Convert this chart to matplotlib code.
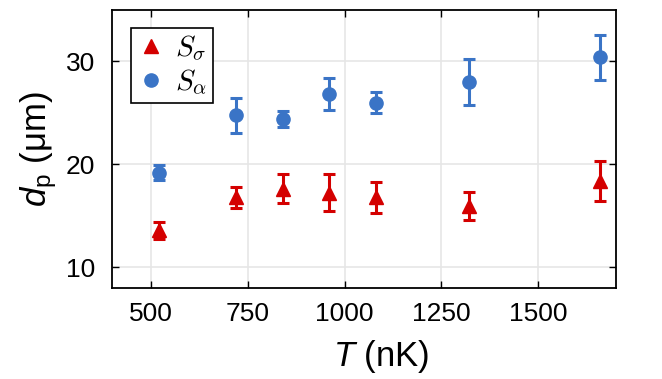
import matplotlib.pyplot as plt
from matplotlib.lines import Line2D

# temperatures (nK)
temps = [521, 720, 840, 960, 1080, 1320, 1660]

# S_sigma (red triangles)
d_sigma = [13.6, 16.8, 17.65, 17.25, 16.8, 16.0, 18.4]
err_sigma = [0.8, 1.05, 1.4, 1.8, 1.5, 1.35, 1.9]

# S_alpha (blue circles)
d_alpha = [19.2, 24.8, 24.4, 26.8, 26.0, 28.0, 30.4]
err_alpha = [0.75, 1.7, 0.75, 1.55, 1.05, 2.2, 2.2]

plt.rcParams['font.family'] = ['Liberation Sans', 'DejaVu Sans']
plt.rcParams['mathtext.fontset'] = 'custom'
plt.rcParams['mathtext.rm'] = 'Liberation Sans'
plt.rcParams['mathtext.it'] = 'Liberation Sans:italic'

red = '#d40000'
blue = '#3a74c6'

fig = plt.figure(figsize=(6.62, 3.79), dpi=100)
ax = fig.add_axes([0.169, 0.24, 0.7615, 0.7336])

ax.errorbar(temps, d_sigma, yerr=err_sigma, fmt='^', color=red, ms=10,
            elinewidth=2.2, capsize=4.2, capthick=2.2)
ax.errorbar(temps, d_alpha, yerr=err_alpha, fmt='o', color=blue, ms=9.5,
            elinewidth=2.2, capsize=4.2, capthick=2.2)

ax.set_xlim(400, 1700)
ax.set_ylim(8, 35)
ax.set_xticks([500, 750, 1000, 1250, 1500])
ax.set_yticks([10, 20, 30])
ax.grid(True, color='#e6e6e6', linewidth=1.2)
ax.set_axisbelow(True)
ax.tick_params(direction='in', top=True, right=True, labelsize=19, length=5, width=1)
ax.tick_params(axis='x', pad=10)
ax.tick_params(axis='y', pad=12)
for s in ax.spines.values():
    s.set_linewidth(1.3)

ax.set_xlabel(r'$T$ (nK)', fontsize=25)
ax.xaxis.set_label_coords(0.535, -0.282)
ax.xaxis.label.set_va('baseline')
ax.set_ylabel(r'$d_\mathrm{p}$ (μm)', fontsize=25, labelpad=5)

handles = [
    Line2D([], [], marker='^', ls='none', color=red, ms=10, label=r'$S_\sigma$'),
    Line2D([], [], marker='o', ls='none', color=blue, ms=9.5, label=r'$S_\alpha$'),
]
leg = ax.legend(handles=handles, loc='upper left', fontsize=21, fancybox=False,
                framealpha=1, edgecolor='black', handletextpad=0.3,
                handlelength=1.0, borderpad=0.2, labelspacing=0.15,
                borderaxespad=0, bbox_to_anchor=(0.038, 0.937))
leg.get_frame().set_linewidth(1.2)
for t in leg.get_texts():
    t.set_math_fontfamily('cm')

fig.savefig('out.png', dpi=100)
